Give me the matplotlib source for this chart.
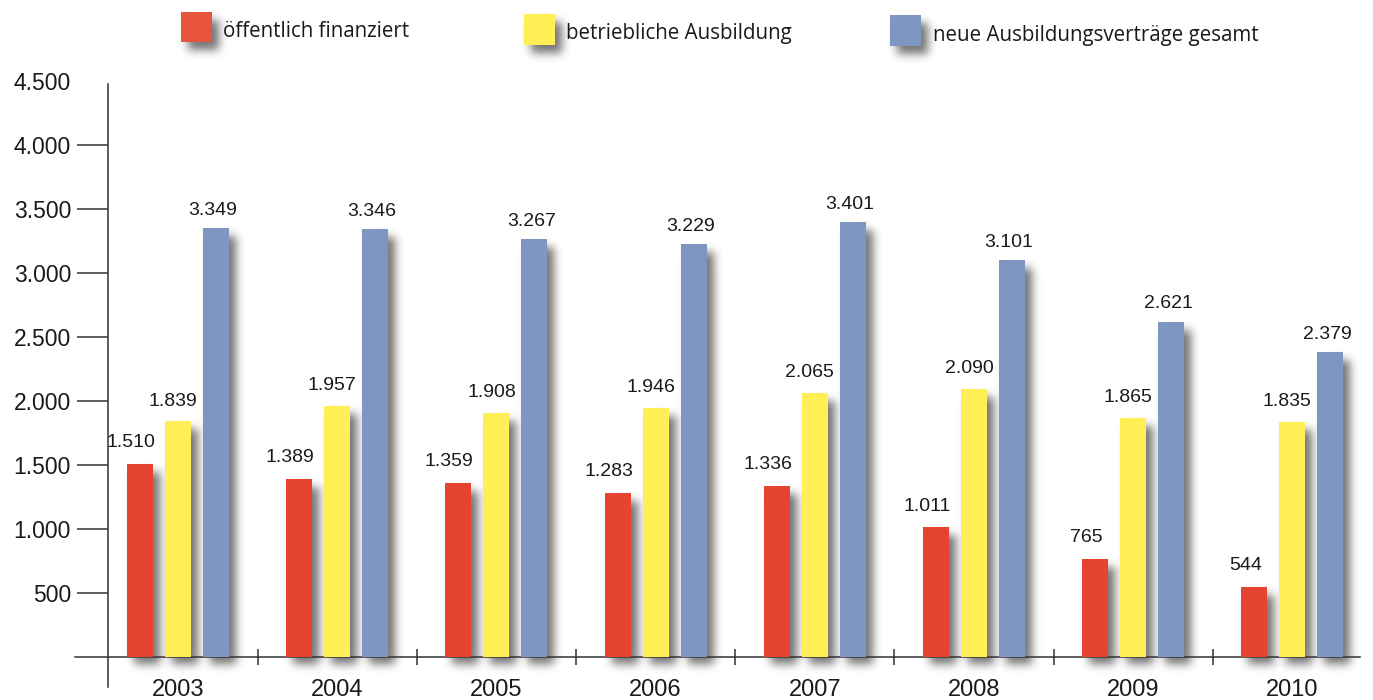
import numpy as np
import matplotlib
matplotlib.use("Agg")
import matplotlib.pyplot as plt
from matplotlib.patches import Rectangle
from matplotlib.ticker import FixedLocator

# ---------------- data ----------------
years = ["2003", "2004", "2005", "2006", "2007", "2008", "2009", "2010"]
oeffentlich = [1510, 1389, 1359, 1283, 1336, 1011, 765, 544]
betrieblich = [1839, 1957, 1908, 1946, 2065, 2090, 1865, 1835]
gesamt = [3349, 3346, 3267, 3229, 3401, 3101, 2621, 2379]
series_names = ["öffentlich finanziert", "betriebliche Ausbildung",
                "neue Ausbildungsverträge gesamt"]
y_tick_values = [500, 1000, 1500, 2000, 2500, 3000, 3500, 4000, 4500]

# ---------------- style / layout ----------------
colors = ["#E54430", "#FFEE55", "#7F97C0"]
legend_colors = ["#E8553E", "#FFEE55", "#7F97C0"]
label_dx_pt = [-6.5, -3.6, -2.2]
label_dy_pt = [12.0, 11.5, 9.5]
TXT = "#1a1a1a"
AX = "#333333"

W, H, DPI = 1373, 700, 100
PX_PER_GROUP = 159.2
GROUP0_PX = 178.0
Y0_PX = 656.5          # pixel row (from top) of value 0
PX_PER_500 = 63.9
XL_PX, XR_PX, YAXIS_PX = 75.0, 1360.0, 108.0
YMIN, YMAX = -240.0, 4500.0


def de_fmt(v):
    return f"{v:,}".replace(",", ".")


def val_to_row(v):
    return Y0_PX - v / 500.0 * PX_PER_500


fig = plt.figure(figsize=(W / DPI, H / DPI), dpi=DPI)
fig.patch.set_facecolor("white")

bottom_frac = 1 - val_to_row(YMIN) / H
top_frac = 1 - val_to_row(YMAX) / H
ax = fig.add_axes([XL_PX / W, bottom_frac, (XR_PX - XL_PX) / W, top_frac - bottom_frac])
ax.patch.set_visible(False)

to_data_x = lambda px: (px - GROUP0_PX) / PX_PER_GROUP
ax.set_xlim(to_data_x(XL_PX), to_data_x(XR_PX))
ax.set_ylim(YMIN, YMAX)

x = np.arange(len(years))
bw = 26.0 / PX_PER_GROUP
step = 38.0 / PX_PER_GROUP
all_series = [oeffentlich, betrieblich, gesamt]

containers = []
for i, (vals, col) in enumerate(zip(all_series, colors)):
    off = (i - 1) * step
    c = ax.bar(x + off, vals, width=bw, color=col, linewidth=0, zorder=3)
    containers.append(c)
    for xi, v in zip(x + off, vals):
        ax.annotate(de_fmt(v), (xi, v), xytext=(label_dx_pt[i], label_dy_pt[i]),
                    textcoords="offset points", ha="center", va="baseline",
                    fontsize=14, family=["Liberation Sans", "DejaVu Sans"],
                    color=TXT, zorder=5)

# spines
for s in ["top", "right"]:
    ax.spines[s].set_visible(False)
ax.spines["left"].set_position(("data", to_data_x(YAXIS_PX)))
ax.spines["left"].set_bounds(YMIN, (Y0_PX - 84) / PX_PER_500 * 500)
ax.spines["bottom"].set_position(("data", 0))
for s in ["left", "bottom"]:
    ax.spines[s].set_color(AX)
    ax.spines[s].set_linewidth(1.1)

# y ticks
ax.set_yticks(y_tick_values)
ax.set_yticklabels([de_fmt(v) for v in y_tick_values])
ax.tick_params(axis="y", direction="out", length=22.3, width=1.1, color=AX,
               pad=4.3, labelsize=16.5, labelcolor=TXT)
for t in ax.yaxis.get_major_ticks():
    t.label1.set_family(["Liberation Sans", "DejaVu Sans"])
ax.yaxis.get_major_ticks()[-1].tick1line.set_visible(False)

# x ticks
ax.set_xticks(x)
ax.set_xticklabels(years)
ax.xaxis.set_minor_locator(FixedLocator(x[:-1] + 0.5))
ax.tick_params(axis="x", which="major", length=0, pad=16, labelsize=17, labelcolor=TXT)
ax.tick_params(axis="x", which="minor", direction="inout", length=11.5, width=1.1, color=AX)
for t in ax.xaxis.get_major_ticks():
    t.label1.set_family(["Liberation Sans", "DejaVu Sans"])

# legend (manual)
legend_layout = [  # square x0, x1, y_top, y_bottom, text x, baseline (pixels from top)
    (181, 212, 12, 42, 223, 37),
    (524, 555, 14, 45, 566, 39),
    (890, 921, 15, 46, 933, 41),
]
legend_patches = []
for (x0, x1, yt, yb, tx, bl), col, name in zip(legend_layout, legend_colors, series_names):
    r = Rectangle((x0 / W, 1 - yb / H), (x1 - x0) / W, (yb - yt) / H,
                  transform=fig.transFigure, facecolor=col, edgecolor="none", zorder=2)
    fig.add_artist(r)
    legend_patches.append(r)
    fig.text(tx / W, 1 - bl / H, name, ha="left", va="baseline", fontsize=14.8,
             family=["Open Sans", "DejaVu Sans"], color=TXT)

# ---------------- drop shadows ----------------
mask = np.zeros((H, W))
SDX, SDY = 7, -8
rects = [r for c in containers for r in c] + legend_patches
for r in rects:
    bb = r.get_window_extent()
    x0 = int(round(bb.x0 + SDX)); x1 = int(round(bb.x1 + SDX))
    y0 = int(round(bb.y0 + SDY)); y1 = int(round(bb.y1 + SDY))
    mask[max(y0, 0):max(y1, 0), max(x0, 0):max(x1, 0)] = 1.0

sigma = 4.5
k = np.arange(-15, 16)
kern = np.exp(-0.5 * (k / sigma) ** 2)
kern /= kern.sum()
mask = np.apply_along_axis(lambda m: np.convolve(m, kern, mode="same"), 0, mask)
mask = np.apply_along_axis(lambda m: np.convolve(m, kern, mode="same"), 1, mask)

shadow = np.zeros((H, W, 4))
shadow[..., :3] = 0.12
shadow[..., 3] = np.clip(mask, 0, 1) * 0.62
fig.figimage(shadow, xo=0, yo=0, origin="lower", zorder=-1)

fig.savefig("out.png", dpi=DPI, facecolor="white")
